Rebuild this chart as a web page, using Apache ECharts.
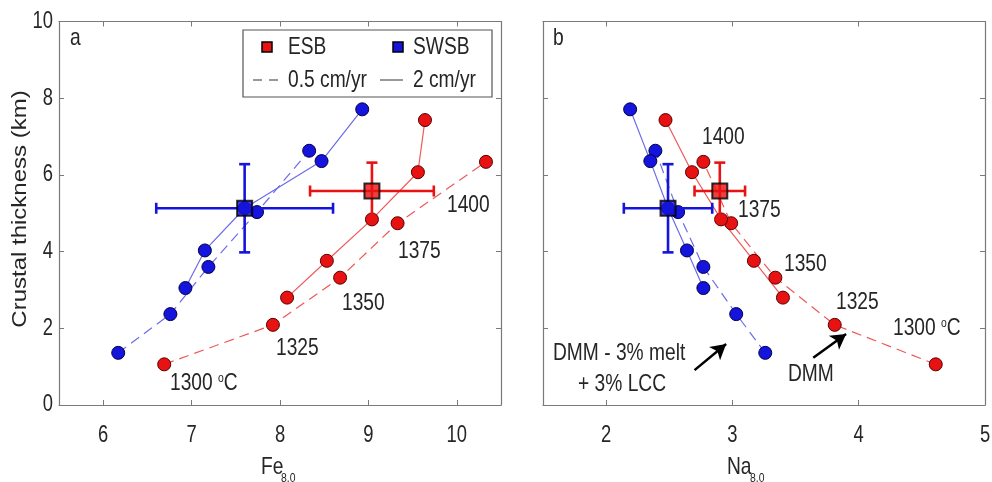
<!DOCTYPE html>
<html>
<head>
<meta charset="utf-8">
<script src="https://cdn.jsdelivr.net/npm/echarts@6/dist/echarts.min.js"></script>
<style>
html,body{margin:0;padding:0;background:#fff;}
#chart{width:992px;height:482px;}
</style>
</head>
<body>
<div id="chart"></div>
<script>
// ---- data ----
const thickRedDash   = [1.06, 2.09, 3.32, 4.74, 6.34];
const feRedDash      = [6.69, 7.92, 8.68, 9.33, 10.33];
const naRedDash      = [4.61, 3.81, 3.34, 2.99, 2.77];
const thickRedSolid  = [2.80, 3.76, 4.84, 6.07, 7.43];
const feRedSolid     = [8.08, 8.53, 9.04, 9.56, 9.64];
const naRedSolid     = [3.40, 3.17, 2.91, 2.68, 2.47];
const thickBlueDash  = [1.36, 2.37, 3.60, 5.03, 6.63];
const feBlueDash     = [6.17, 6.76, 7.19, 7.74, 8.33];
const naBlueDash     = [3.26, 3.03, 2.77, 2.57, 2.39];
const thickBlueSolid = [3.05, 4.03, 5.13, 6.36, 7.71];
const feBlueSolid    = [6.93, 7.15, 7.60, 8.47, 8.93];
const naBlueSolid    = [2.77, 2.64, 2.49, 2.35, 2.19];

const obsNames    = ['ESB', 'SWSB'];
const obsThick    = [5.58, 5.13];
const obsThickErr = [0.74, 1.15];
const obsFe       = [9.04, 7.60];
const obsFeErr    = [0.70, 1.00];
const obsNa       = [2.90, 2.49];
const obsNaErr    = [0.20, 0.35];

const feTicks = [6, 7, 8, 9, 10];
const naTicks = [2, 3, 4, 5];
const yTicks  = [0, 2, 4, 6, 8, 10];

const arrowCoords = [
  [[2.70, 0.91], [2.95, 1.59]],
  [[3.64, 1.23], [3.90, 1.85]]
];

// ---- styling ----
const FONT = '"Liberation Sans",Arial,Helvetica,sans-serif';
const SX = 0.8;             // horizontal squeeze of the reference lettering
const TXT = '#262626';
const AX = '#7a7a7a';
const RED = '#e81212', REDL = '#f05858', REDE = '#5a0000';
const BLUE = '#1414dc', BLUEL = '#6c6ce8', BLUEE = '#00004a';

function zip(a, b) { return a.map((v, i) => [v, b[i]]); }

const grids = [
  {left: 59, top: 21.5, width: 442, height: 383.5},
  {left: 543, top: 21.5, width: 442, height: 383.5}
];

function xAx(grid, min, max, ticks, pos) {
  return {
    type: 'value', gridIndex: grid, min: min, max: max, position: pos,
    axisLine: {show: true, onZero: false, lineStyle: {color: AX, width: 1.2}},
    axisTick: {show: true, inside: true, length: 5, customValues: ticks, lineStyle: {color: AX}},
    axisLabel: {show: false},
    splitLine: {show: false}
  };
}
function yAx(grid, pos) {
  return {
    type: 'value', gridIndex: grid, min: 0, max: 10, interval: 2, position: pos,
    axisLine: {show: true, onZero: false, lineStyle: {color: AX, width: 1.2}},
    axisTick: {show: true, inside: true, length: 5, lineStyle: {color: AX}},
    axisLabel: {show: false},
    splitLine: {show: false}
  };
}

const xAxes = [
  xAx(0, 5.5, 10.5, feTicks, 'bottom'),
  xAx(0, 5.5, 10.5, feTicks, 'top'),
  xAx(1, 1.5, 5, naTicks, 'bottom'),
  xAx(1, 1.5, 5, naTicks, 'top')
];
const yAxes = [
  yAx(0, 'left'), yAx(0, 'right'),
  yAx(1, 'left'), yAx(1, 'right')
];

function lineSeries(xs, ys, xi, yi, dashed, red) {
  return {
    type: 'line', xAxisIndex: xi, yAxisIndex: yi, data: zip(xs, ys),
    symbol: 'circle', symbolSize: 13, z: 3,
    lineStyle: {color: red ? REDL : BLUEL, width: 1.2, type: dashed ? [10, 6] : 'solid'},
    itemStyle: {color: red ? RED : BLUE, borderColor: red ? REDE : BLUEE, borderWidth: 1},
    emphasis: {disabled: true}, animation: false
  };
}

function errSeries(xi, yi, xs, xe, ys, ye) {
  const data = xs.map((x, i) => [x, ys[i], xe[i], ye[i], i]);
  return {
    type: 'custom', xAxisIndex: xi, yAxisIndex: yi, z: 5, data: data,
    renderItem: function (params, api) {
      const x = api.value(0), y = api.value(1), dx = api.value(2), dy = api.value(3), i = api.value(4);
      const col = i === 0 ? RED : BLUE;
      const l = api.coord([x - dx, y]), r = api.coord([x + dx, y]);
      const t = api.coord([x, y + dy]), b = api.coord([x, y - dy]);
      const c = 5.5;
      const st = {stroke: col, lineWidth: 2.6, fill: null};
      return {type: 'group', children: [
        {type: 'line', shape: {x1: l[0], y1: l[1], x2: r[0], y2: r[1]}, style: st},
        {type: 'line', shape: {x1: t[0], y1: t[1], x2: b[0], y2: b[1]}, style: st},
        {type: 'line', shape: {x1: l[0], y1: l[1] - c, x2: l[0], y2: l[1] + c}, style: st},
        {type: 'line', shape: {x1: r[0], y1: r[1] - c, x2: r[0], y2: r[1] + c}, style: st},
        {type: 'line', shape: {x1: t[0] - c, y1: t[1], x2: t[0] + c, y2: t[1]}, style: st},
        {type: 'line', shape: {x1: b[0] - c, y1: b[1], x2: b[0] + c, y2: b[1]}, style: st}
      ]};
    },
    animation: false
  };
}

function obsSeries(xi, yi, xs, ys, withArrows) {
  const s = {
    type: 'scatter', xAxisIndex: xi, yAxisIndex: yi, z: 6,
    data: xs.map((x, i) => ({value: [x, ys[i]], name: obsNames[i], itemStyle: {color: i === 0 ? RED : BLUE}})),
    symbol: 'rect', symbolSize: 15,
    itemStyle: {borderColor: '#000', borderWidth: 2},
    emphasis: {disabled: true}, animation: false
  };
  if (withArrows) {
    s.markLine = {
      silent: true, animation: false,
      symbol: ['none', 'arrow'], symbolSize: [13, 15],
      label: {show: false},
      lineStyle: {color: '#000', width: 2.5, type: 'solid'},
      data: arrowCoords.map(a => [{coord: a[0]}, {coord: a[1]}])
    };
  }
  return s;
}

const series = [
  lineSeries(feRedDash, thickRedDash, 0, 0, true, true),
  lineSeries(feRedSolid, thickRedSolid, 0, 0, false, true),
  lineSeries(feBlueDash, thickBlueDash, 0, 0, true, false),
  lineSeries(feBlueSolid, thickBlueSolid, 0, 0, false, false),
  lineSeries(naRedDash, thickRedDash, 2, 2, true, true),
  lineSeries(naRedSolid, thickRedSolid, 2, 2, false, true),
  lineSeries(naBlueDash, thickBlueDash, 2, 2, true, false),
  lineSeries(naBlueSolid, thickBlueSolid, 2, 2, false, false),
  errSeries(0, 0, obsFe, obsFeErr, obsThick, obsThickErr),
  errSeries(2, 2, obsNa, obsNaErr, obsThick, obsThickErr),
  obsSeries(0, 0, obsFe, obsThick, false),
  obsSeries(2, 2, obsNa, obsThick, true)
];

const chart = echarts.init(document.getElementById('chart'), null, {renderer: 'canvas'});
chart.setOption({
  animation: false,
  backgroundColor: '#fff',
  grid: grids,
  xAxis: xAxes,
  yAxis: yAxes,
  series: series
});

// ---- text (squeezed horizontally like the reference) ----
function txt(x, y, s, opt) {
  opt = opt || {};
  return {type: 'text', x: x, y: y, z: 50, scaleX: SX, silent: true,
    style: {text: s, fill: TXT, font: (opt.size || 24) + 'px ' + FONT,
      textAlign: opt.align || 'left', textVerticalAlign: 'middle', rich: opt.rich}};
}
function tempTxt(x, y, s) {
  return txt(x, y, s + ' {s|o}C', {rich: {s: {fontSize: 13, fontFamily: FONT, fill: TXT, padding: [0, 0, 10, 0]}}});
}

const graphic = [
  txt(70, 38, 'a'),
  txt(553, 38, 'b'),
  tempTxt(170, 383, '1300'),
  txt(276, 348, '1325'),
  txt(342, 303, '1350'),
  txt(398, 251, '1375'),
  txt(447, 205, '1400'),
  txt(702, 137, '1400'),
  txt(738, 210, '1375'),
  txt(784, 264, '1350'),
  txt(836, 302, '1325'),
  tempTxt(893, 328, '1300'),
  txt(788, 374, 'DMM'),
  txt(553, 353, 'DMM - 3% melt'),
  txt(578, 384, '+ 3% LCC'),
  {type: 'text', x: 20, y: 209, rotation: Math.PI / 2, scaleY: 0.85, z: 50, silent: true,
    style: {text: 'Crustal thickness (km)', fill: TXT, font: '24px ' + FONT, textAlign: 'center', textVerticalAlign: 'middle'}},
  txt(261, 467, 'Fe'),
  txt(281, 478, '8.0', {size: 13}),
  txt(727, 467, 'Na'),
  txt(750, 478, '8.0', {size: 13}),
  // legend
  {type: 'rect', z: 40, silent: true, shape: {x: 243, y: 30, width: 249, height: 67}, style: {fill: '#fff', stroke: '#555', lineWidth: 1.2}},
  {type: 'rect', z: 45, silent: true, shape: {x: 262, y: 42, width: 10, height: 10}, style: {fill: RED, stroke: '#000', lineWidth: 1.5}},
  {type: 'rect', z: 45, silent: true, shape: {x: 393, y: 42, width: 10, height: 10}, style: {fill: BLUE, stroke: '#000', lineWidth: 1.5}},
  txt(288, 47, 'ESB'),
  txt(413, 47, 'SWSB'),
  {type: 'line', z: 45, silent: true, shape: {x1: 253, y1: 80, x2: 262, y2: 80}, style: {stroke: '#333', lineWidth: 1}},
  {type: 'line', z: 45, silent: true, shape: {x1: 269, y1: 80, x2: 278, y2: 80}, style: {stroke: '#333', lineWidth: 1}},
  txt(288, 80, '0.5 cm/yr'),
  {type: 'line', z: 45, silent: true, shape: {x1: 380, y1: 80, x2: 403, y2: 80}, style: {stroke: '#333', lineWidth: 1}},
  txt(413, 80, '2 cm/yr')
];

// tick labels placed through the axes' own scales
feTicks.forEach(v => graphic.push(txt(chart.convertToPixel({xAxisIndex: 0}, v), 436, String(v), {align: 'center', size: 23})));
naTicks.forEach(v => graphic.push(txt(chart.convertToPixel({xAxisIndex: 2}, v), 436, String(v), {align: 'center', size: 23})));
yTicks.forEach(v => graphic.push(txt(53, chart.convertToPixel({yAxisIndex: 0}, v), String(v), {align: 'right', size: 23})));

chart.setOption({graphic: graphic});
</script>
</body>
</html>
